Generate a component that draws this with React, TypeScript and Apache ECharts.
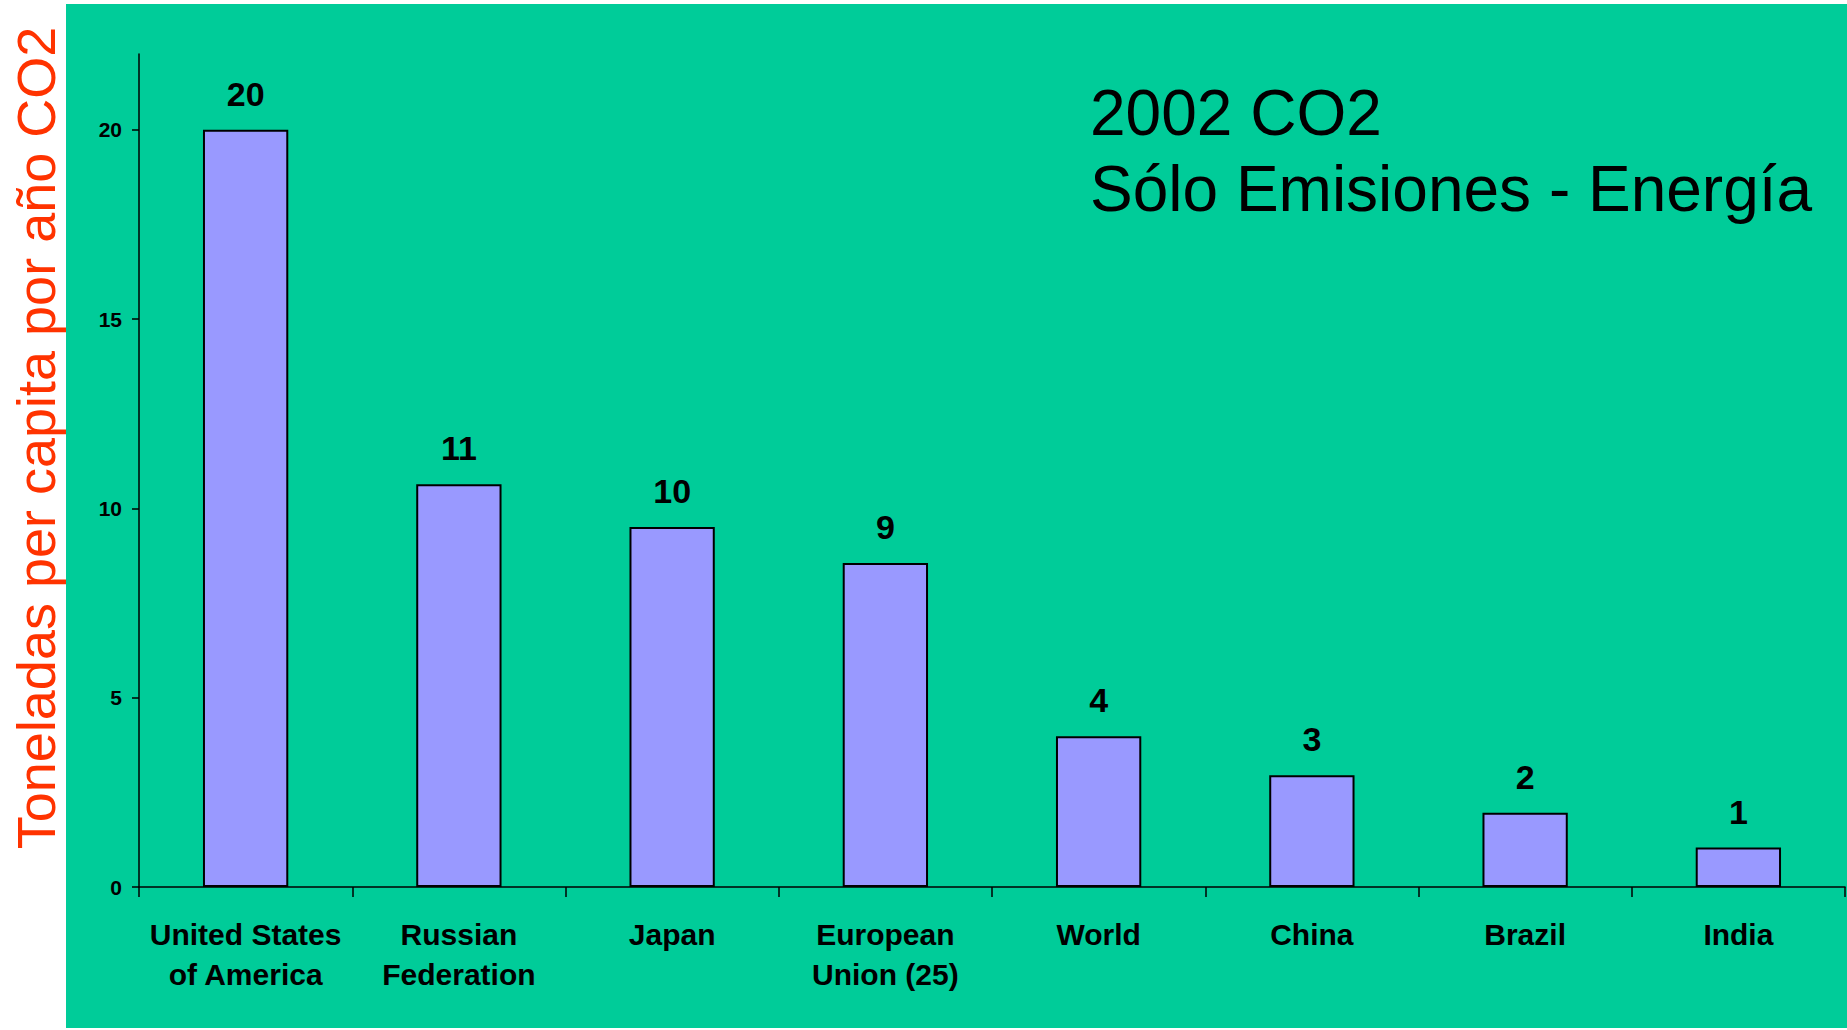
import React, { useEffect, useRef } from "react";
import * as echarts from "echarts";

const categories = [
  "United States\nof America",
  "Russian\nFederation",
  "Japan",
  "European\nUnion (25)",
  "World",
  "China",
  "Brazil",
  "India",
];
const values = [20.0, 10.64, 9.51, 8.56, 3.98, 2.95, 1.96, 1.04];
const yTicks = [0, 5, 10, 15, 20];
const titleLines = ["2002 CO2", "Sólo Emisiones - Energía"];
const yTitle = "Toneladas per capita por año CO2";

const FONT = "Arial, 'Liberation Sans', sans-serif";

export default function App() {
  const ref = useRef<HTMLDivElement>(null);
  useEffect(() => {
    if (!ref.current) return;
    const chart = echarts.init(ref.current, undefined, { renderer: "svg" });
    chart.setOption({
      animation: false,
      backgroundColor: "#ffffff",
      title: {
        text: titleLines.join("\n"),
        left: 1090,
        top: 75,
        padding: 0,
        textStyle: {
          fontFamily: FONT,
          fontSize: 64,
          fontWeight: "normal",
          color: "#000000",
          lineHeight: 76,
        },
      },
      graphic: [
        {
          type: "rect",
          z: -100,
          silent: true,
          shape: { x: 66, y: 4, width: 1781, height: 1024 },
          style: { fill: "#00CC99" },
        },
        {
          type: "text",
          x: 36,
          y: 438,
          rotation: Math.PI / 2,
          style: {
            text: yTitle,
            fill: "#FF3300",
            fontFamily: FONT,
            fontSize: 54,
            align: "center",
            verticalAlign: "middle",
          },
        },
      ],
      grid: {
        left: 139,
        right: 2,
        top: 54,
        bottom: 143,
        containLabel: false,
        outerBoundsMode: "none",
      },
      xAxis: {
        type: "category",
        data: categories,
        boundaryGap: true,
        axisLine: { show: true, lineStyle: { color: "#000000", width: 1.5 } },
        axisTick: {
          show: true,
          interval: 0,
          alignWithLabel: false,
          length: 10,
          lineStyle: { color: "#000000", width: 1.5 },
        },
        axisLabel: {
          interval: 0,
          margin: 27,
          fontFamily: FONT,
          fontSize: 30,
          fontWeight: "bold",
          color: "#000000",
          lineHeight: 40,
        },
        splitLine: { show: false },
      },
      yAxis: {
        type: "value",
        min: 0,
        max: 22,
        interval: 5,
        axisLine: { show: true, lineStyle: { color: "#000000", width: 1.5 } },
        axisTick: {
          show: true,
          length: 7,
          customValues: yTicks,
          lineStyle: { color: "#000000", width: 1.5 },
        },
        axisLabel: {
          customValues: yTicks,
          margin: 17,
          fontFamily: FONT,
          fontSize: 21,
          fontWeight: "bold",
          color: "#000000",
        },
        splitLine: { show: false },
      },
      series: [
        {
          type: "bar",
          data: values,
          barWidth: "40%",
          itemStyle: {
            color: "#9999FF",
            borderColor: "#000000",
            borderWidth: 2,
          },
          label: {
            show: true,
            position: "top",
            distance: 19,
            formatter: (p: any) => String(Math.round(p.value)),
            fontFamily: FONT,
            fontSize: 34,
            fontWeight: "bold",
            color: "#000000",
          },
        },
      ],
    });
    return () => chart.dispose();
  }, []);
  return (
    <div
      ref={ref}
      style={{ position: "fixed", left: 0, top: 0, width: 1847, height: 1030 }}
    />
  );
}
